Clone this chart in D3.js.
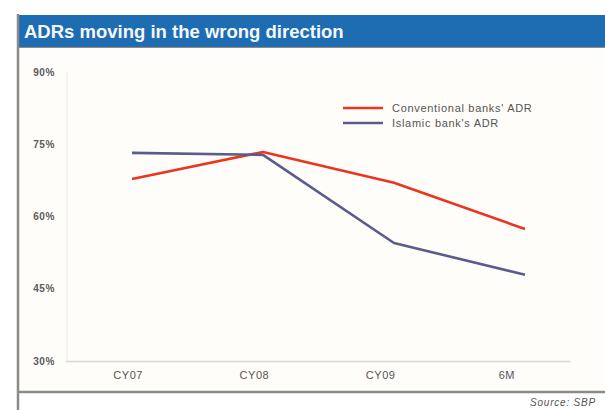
<!DOCTYPE html>
<html><head><meta charset="utf-8">
<script src="https://cdn.jsdelivr.net/npm/d3@7"></script>
<style>body{margin:0;background:#fff}svg{display:block}</style>
</head><body>
<script>
const categories = ["CY07", "CY08", "CY09", "6M"];
const conventional = [67.8, 73.4, 67.0, 57.4];
const islamic = [73.2, 72.8, 54.5, 47.9];
const yTicks = [30, 45, 60, 75, 90];
const seriesNames = ["Conventional banks' ADR", "Islamic bank's ADR"];
const seriesColors = ["#e8361f", "#5c5b8e"];

const W = 605, H = 410;
const FONT = "Liberation Sans, Arial, sans-serif";
const svg = d3.select("body").append("svg").attr("width", W).attr("height", H);
svg.append("rect").attr("width", W).attr("height", H).attr("fill", "#fff");
svg.append("rect").attr("x", 18).attr("y", 47).attr("width", W - 18).attr("height", 345).attr("fill", "#fffdf9");

// title bar
svg.append("rect").attr("x", 18).attr("y", 15).attr("width", W - 18).attr("height", 32).attr("fill", "#1e6cb2");
svg.append("line").attr("x1", 18).attr("x2", W).attr("y1", 47).attr("y2", 47).attr("stroke", "#4d6a86").attr("stroke-width", 1.5);
svg.append("text").attr("x", 24).attr("y", 38).attr("fill", "#f4f8fc")
  .attr("font-family", FONT).attr("font-weight", "bold").attr("font-size", 18.5)
  .text("ADRs moving in the wrong direction");

// frame lines
svg.append("line").attr("x1", 18).attr("x2", 18).attr("y1", 14).attr("y2", H).attr("stroke", "#8a8a8a").attr("stroke-width", 2.5);
svg.append("line").attr("x1", 17).attr("x2", W).attr("y1", 392).attr("y2", 392).attr("stroke", "#8a8a8a").attr("stroke-width", 2.5);

const y = d3.scaleLinear().domain([30, 90]).range([361, 72]);
const xPt = d3.scalePoint().domain(categories).range([132, 525]);
const xBand = d3.scaleBand().domain(categories).range([65, 570]);

// plot border (faint)
svg.append("line").attr("x1", 67).attr("x2", 67).attr("y1", 72).attr("y2", 361).attr("stroke", "#eeeeee");

// y axis labels
const yAxis = d3.axisLeft(y).tickValues(yTicks).tickFormat(d => d + "%").tickSize(0).tickPadding(0);
const gy = svg.append("g").attr("transform", "translate(55,0)").call(yAxis);
gy.select(".domain").remove();
gy.selectAll("text").attr("font-family", FONT).attr("font-size", 10).attr("font-weight", "bold")
  .attr("letter-spacing", 0.6).attr("fill", "#5a5a5a");

// x axis
const xAxis = d3.axisBottom(xBand).tickSize(0).tickPadding(10);
const gx = svg.append("g").attr("transform", "translate(0,361)").call(xAxis);
gx.select(".domain").attr("stroke", "#d8d8d8").attr("stroke-width", 1.5);
gx.selectAll("text").attr("font-family", FONT).attr("font-size", 11).attr("letter-spacing", 0.6).attr("fill", "#555");

// lines
const line = d3.line().x((d, i) => xPt(categories[i])).y(d => y(d));
[conventional, islamic].forEach((s, i) => {
  svg.append("path").datum(s).attr("d", line).attr("fill", "none")
    .attr("stroke", seriesColors[i]).attr("stroke-width", 2.6).attr("stroke-linejoin", "round");
});

// legend
seriesNames.forEach((n, i) => {
  const ly = 108 + i * 15;
  svg.append("line").attr("x1", 343).attr("x2", 383).attr("y1", ly).attr("y2", ly).attr("stroke", seriesColors[i]).attr("stroke-width", 2.6);
  svg.append("text").attr("x", 392).attr("y", ly + 4).attr("font-family", FONT).attr("font-size", 11)
    .attr("letter-spacing", 0.7).attr("fill", "#555").text(n);
});

// source
svg.append("text").attr("x", 596).attr("y", 406).attr("text-anchor", "end").attr("font-family", FONT)
  .attr("font-style", "italic").attr("font-size", 10).attr("letter-spacing", 0.8).attr("fill", "#555").text("Source: SBP");
</script>
</body></html>
